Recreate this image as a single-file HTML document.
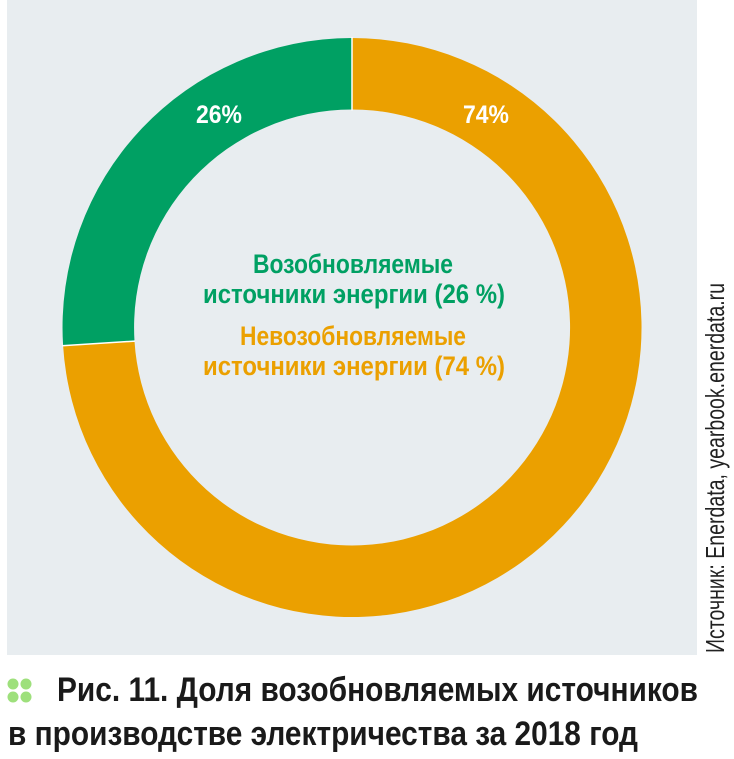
<!DOCTYPE html>
<html><head><meta charset="utf-8"><style>
html,body{margin:0;padding:0;background:#fff;}
</style></head><body>
<svg width="734" height="759" viewBox="0 0 734 759" xmlns="http://www.w3.org/2000/svg" style="display:block">
<rect x="7" y="0" width="690" height="655" fill="#e8edf0"/>
<g transform="translate(352,327.5)">
<path d="M0,-289.5 A289.5,289.5 0 1,1 -288.9,18.2 L-217.5,13.7 A218,218 0 1,0 0,-218 Z" fill="#eba000"/>
<path d="M0,-289.5 A289.5,289.5 0 0,0 -288.9,18.2 L-217.5,13.7 A218,218 0 0,1 0,-218 Z" fill="#00a063"/>
<line x1="0" y1="-290.5" x2="0" y2="-217" stroke="#fff" stroke-width="1.5"/>
<line x1="-290" y1="18.3" x2="-217" y2="13.6" stroke="#fff" stroke-width="1.5"/>
</g>
<g font-family="'Liberation Sans Narrow','Liberation Sans',sans-serif" font-weight="bold" text-anchor="middle">
<text x="219" y="123" font-size="25" fill="#fff" textLength="46" lengthAdjust="spacingAndGlyphs">26%</text>
<text x="486" y="123" font-size="25" fill="#fff" textLength="46" lengthAdjust="spacingAndGlyphs">74%</text>
<text x="353" y="273" font-size="27" fill="#00a063" textLength="200" lengthAdjust="spacingAndGlyphs">Возобновляемые</text>
<text x="354" y="303" font-size="27" fill="#00a063" textLength="302" lengthAdjust="spacingAndGlyphs">источники энергии (26 %)</text>
<text x="353" y="345" font-size="27" fill="#eba000" textLength="226" lengthAdjust="spacingAndGlyphs">Невозобновляемые</text>
<text x="354" y="375" font-size="27" fill="#eba000" textLength="302" lengthAdjust="spacingAndGlyphs">источники энергии (74 %)</text>
</g>
<text transform="translate(724,653) rotate(-90)" font-family="'Liberation Sans Narrow','Liberation Sans',sans-serif" font-size="26" fill="#222" textLength="370" lengthAdjust="spacingAndGlyphs">Источник: Enerdata, yearbook.enerdata.ru</text>
<g fill="#9ee07c">
<circle cx="13" cy="684" r="5.5"/><circle cx="26" cy="684" r="5.5"/>
<circle cx="13" cy="697" r="5.5"/><circle cx="26" cy="697" r="5.5"/>
</g>
<g font-family="'Liberation Sans Narrow','Liberation Sans',sans-serif" font-weight="bold" font-size="34" fill="#1a1a1a">
<text x="57" y="701" textLength="641" lengthAdjust="spacingAndGlyphs">Рис. 11. Доля возобновляемых источников</text>
<text x="8" y="745" textLength="630" lengthAdjust="spacingAndGlyphs">в производстве электричества за 2018 год</text>
</g>
</svg>
</body></html>
